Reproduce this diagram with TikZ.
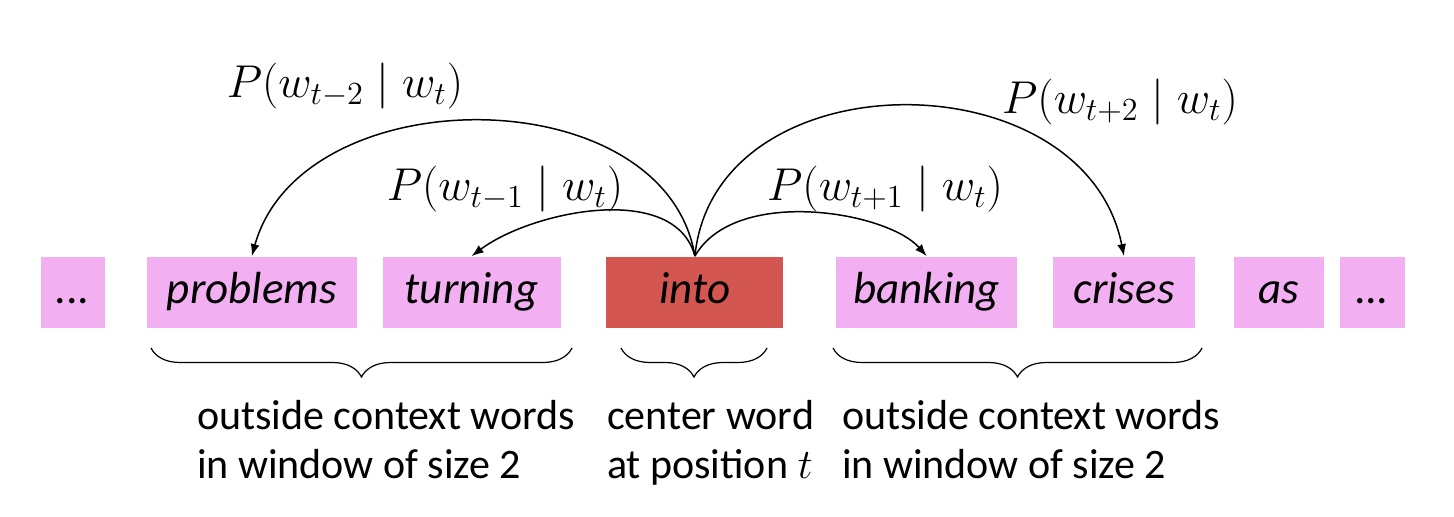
\documentclass[tikz,border=0pt]{standalone}
\usepackage{fix-cm}
\usepackage{amsmath}
\usepackage{fontspec}
\setmainfont{Carlito}
\usetikzlibrary{arrows.meta,positioning,decorations.pathreplacing}
\definecolor{wordpink}{RGB}{242,176,242}
\definecolor{centerred}{RGB}{211,86,80}

\begin{document}
\begin{tikzpicture}[x=1pt,y=1pt,
    every node/.style={font=\fontsize{21}{24.5}\selectfont},
    word/.style={fill=wordpink,inner sep=0pt,minimum height=35.5pt,
                 text height=16pt,text depth=5pt,font=\fontsize{22.5}{27}\selectfont\itshape},
    prob/.style={font=\fontsize{23}{27}\selectfont},
    ctx/.style={-{Latex[length=6pt,width=4.5pt]},line width=0.75pt},
    brc/.style={decorate,decoration={brace,mirror,amplitude=14.5pt},line width=0.6pt}]
  \useasboundingbox (0,0) rectangle (727,258);
  % the sentence
  \node[word,minimum width=32pt] (dotsl) at (36.5,112) {...};
  \node[word,minimum width=105pt,right=20.5pt of dotsl] (problems) {problems};
  \node[word,minimum width=89pt,right=12.5pt of problems] (turning) {turning};
  \node[word,minimum width=88.5pt,right=22.5pt of turning,fill=centerred] (into) {into};
  \node[word,minimum width=90.5pt,right=26pt of into] (banking) {banking};
  \node[word,minimum width=71pt,right=17.5pt of banking] (crises) {crises};
  \node[word,minimum width=45pt,right=19pt of crises] (as) {as};
  \node[word,minimum width=32.5pt,right=7.5pt of as] (dotsr) {...};
  % context probabilities
  \draw[ctx] (into.north) .. controls +(-15,90) and +(25,90) .. (problems.north);
  \draw[ctx] (into.north) .. controls +(-10,37.5) and +(30,22.5) .. (turning.north);
  \draw[ctx] (into.north) .. controls +(20,35) and +(-20,22.5) .. (banking.north);
  \draw[ctx] (into.north) .. controls +(10,100) and +(-20,100) .. (crises.north);
  \node[prob] (pm2) at (172.5,215) {$P(w_{t-2}\mid w_t)$};
  \node[prob] (pm1) at (252.5,163.5) {$P(w_{t-1}\mid w_t)$};
  \node[prob] (pp1) at (442.5,163.5) {$P(w_{t+1}\mid w_t)$};
  \node[prob] (pp2) at (560,207) {$P(w_{t+2}\mid w_t)$};
  % windows
  \draw[brc] (75.5,84) -- (286,84);
  \draw[brc] (310.5,84) -- (383.5,84);
  \draw[brc] (416.5,84) -- (601,84);
  \node[anchor=north west,align=left] (lefttxt) at (95,61.5) {outside context words\\in window of size 2};
  \node[anchor=north west,align=left] (centertxt) at (300,61.5) {center word\\at position $t$};
  \node[anchor=north west,align=left] (righttxt) at (417.5,61.5) {outside context words\\in window of size 2};
\end{tikzpicture}
\end{document}
